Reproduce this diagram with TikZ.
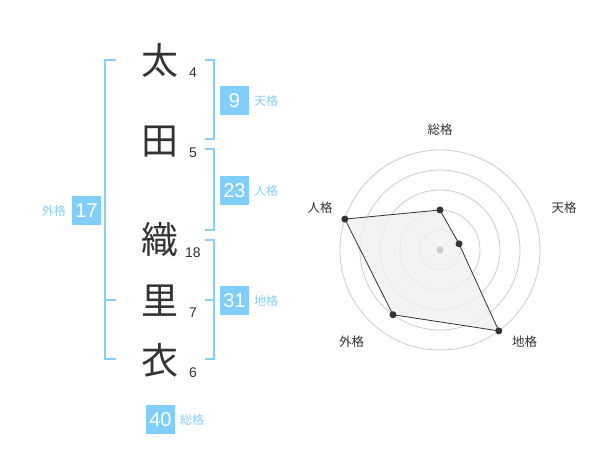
\documentclass[tikz,border=0pt]{standalone}
\usepackage{fontspec}
\setmainfont{Liberation Sans}
\newfontfamily\jp{Noto Sans CJK JP}
\usetikzlibrary{calc}
\definecolor{kblue}{RGB}{130,206,250}
\definecolor{klab}{RGB}{135,206,248}
\definecolor{kdark}{RGB}{51,51,51}
\definecolor{kgrid}{RGB}{204,204,204}
\begin{document}
\begin{tikzpicture}[x=1pt,y=-1pt,
  kanji/.style={inner sep=0pt,font=\jp\fontsize{37}{37}\selectfont,text=kdark},
  strokes/.style={inner sep=0pt,font=\fontsize{14}{14}\selectfont,text=kdark},
  valbox/.style={fill=kblue,text=white,minimum size=29pt,inner sep=0pt,font=\fontsize{20}{20}\selectfont},
  kaku/.style={inner sep=0pt,font=\jp\fontsize{12}{12}\selectfont,text=klab},
  brk/.style={draw=klab,line width=2pt},
  ring/.style={draw=kgrid,line width=0.8pt},
  axlab/.style={inner sep=0pt,font=\jp\fontsize{12.5}{12.5}\selectfont,text=kdark},
  dot/.style={circle,fill=kdark,inner sep=0pt,minimum size=7pt}]
\useasboundingbox (0,0) rectangle (600,470);
\fill[white] (0,0) rectangle (600,470);

% characters
\node[kanji] (c1) at (160,60) {太};
\node[kanji] (c2) at (160,142) {田};
\node[kanji] (c3) at (160,240) {織};
\node[kanji] (c4) at (160,301) {里};
\node[kanji] (c5) at (160,360) {衣};
\node[strokes] (n1) at (193,73) {4};
\node[strokes] (n2) at (193,153) {5};
\node[strokes] (n3) at (193,253) {18};
\node[strokes] (n4) at (193,313) {7};
\node[strokes] (n5) at (193,373) {6};

% brackets
\draw[brk] (116,60) -- (105,60) -- (105,359) -- (116,359);
\draw[brk] (105,300) -- (116,300);
\draw[brk] (205,60) -- (214,60) -- (214,139) -- (205,139);
\draw[brk] (205,149) -- (214,149) -- (214,230) -- (205,230);
\draw[brk] (205,240) -- (214,240) -- (214,359) -- (205,359);
\draw[brk] (205,300) -- (214,300);

% value boxes
\node[valbox] (b9) at (234.5,100.5) {9};
\node[kaku,anchor=west] (l9) at (254,101) {天格};
\node[valbox] (b23) at (234.5,190.5) {23};
\node[kaku,anchor=west] (l23) at (254,191) {人格};
\node[valbox] (b31) at (234.5,300.5) {31};
\node[kaku,anchor=west] (l31) at (254,301) {地格};
\node[valbox] (b17) at (86.5,210.5) {17};
\node[kaku,anchor=east] (l17) at (66,211) {外格};
\node[valbox] (b40) at (160.5,419.5) {40};
\node[kaku,anchor=west] (l40) at (180,420) {総格};

% radar (y axis points down, so screen angles are negated)
\coordinate (O) at (440,250);
\foreach \r in {20,40,60,80,100} \draw[ring] (O) circle[radius=\r];
\coordinate (pS) at ($(O)+(-90:40)$);
\coordinate (pT) at ($(O)+(-18:20)$);
\coordinate (pC) at ($(O)+(54:100)$);
\coordinate (pG) at ($(O)+(-234:80)$);
\coordinate (pJ) at ($(O)+(-162:100)$);
\filldraw[fill=gray!12,fill opacity=0.8,draw=kdark,line width=0.8pt] (pS) -- (pT) -- (pC) -- (pG) -- (pJ) -- cycle;
\node[circle,fill=kgrid,inner sep=0pt,minimum size=7pt] (ctr) at (O) {};
\foreach \p in {pS,pT,pC,pG,pJ} \node[dot] at (\p) {};
\node[axlab] (aS) at (440,130) {総格};
\node[axlab] (aT) at (564,208) {天格};
\node[axlab] (aJ) at (320,208) {人格};
\node[axlab] (aG) at (351.5,342) {外格};
\node[axlab] (aC) at (524.5,342) {地格};
\end{tikzpicture}
\end{document}
